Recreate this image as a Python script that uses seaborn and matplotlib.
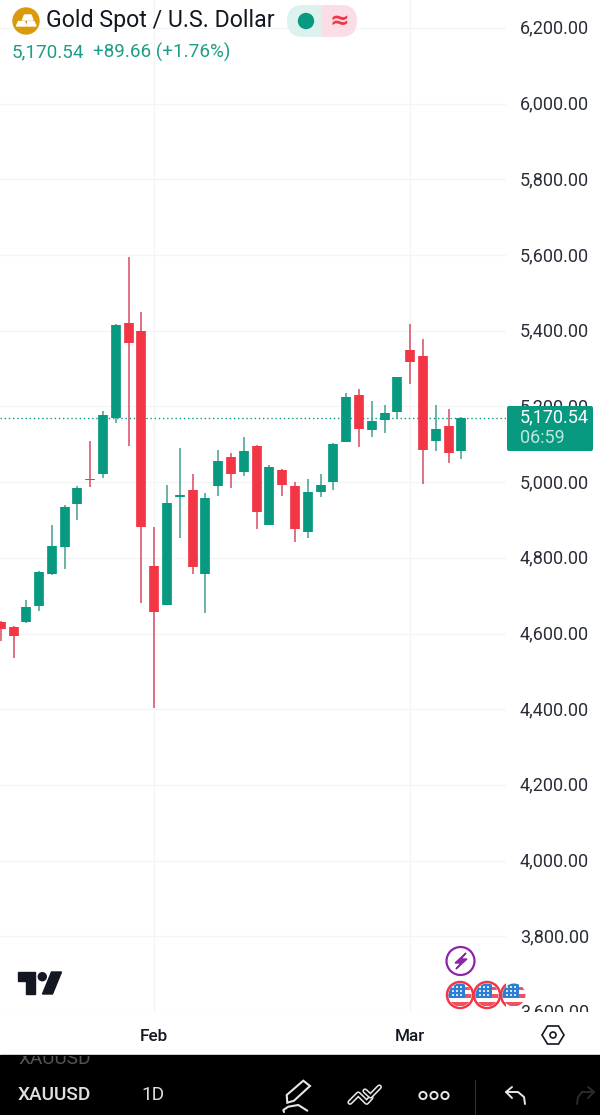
import pandas as pd
import seaborn as sns
from matplotlib import pyplot as plt
from matplotlib.patches import Circle, Polygon, Rectangle, FancyBboxPatch
from matplotlib.transforms import Bbox, ScaledTranslation

# daily candles
opens = [4630, 4616, 4630, 4673, 4758, 4829, 4942, 5008, 5021, 5170, 5421, 5399, 4779,
         4675, 4963, 4979, 4758, 4990, 5066, 5026, 5096, 4888, 5033, 4989, 4868, 4974,
         5000, 5106, 5229, 5139, 5164, 5186, 5350, 5333, 5108, 5148, 5082]
highs = [4632, 4620, 4689, 4765, 4887, 4940, 4989, 5110, 5188, 5418, 5596, 5449, 4882,
         4993, 5091, 5022, 4971, 5085, 5078, 5118, 5098, 5045, 5034, 5000, 5008, 5021,
         5103, 5236, 5247, 5215, 5203, 5279, 5418, 5378, 5204, 5193, 5172]
lows = [4579, 4535, 4628, 4659, 4754, 4771, 4899, 4988, 5012, 5156, 5096, 4681, 4402,
        4675, 4852, 4758, 4654, 4964, 4985, 5017, 4877, 4887, 4964, 4841, 4853, 4960,
        4979, 5106, 5094, 5119, 5129, 5166, 5260, 4995, 5083, 5050, 5062]
closes = [4613, 4593, 4670, 4763, 4830, 4935, 4984, 5006, 5178, 5416, 5367, 4881, 4657,
          4946, 4965, 4777, 4959, 5057, 5022, 5083, 4920, 5041, 4993, 4875, 4975, 4993,
          5102, 5226, 5141, 5162, 5183, 5278, 5318, 5086, 5140, 5078, 5170.54]
price_ticks = [3600, 3800, 4000, 4200, 4400, 4600, 4800, 5000, 5200, 5400, 5600, 5800, 6000, 6200]
month_bars = [12, 32]
month_labels = ["Feb", "Mar"]
last_price = 5170.54

GREEN = "#089981"
RED = "#F23645"
W, H = 600, 1115

sns.set_theme(style="white")
plt.rcParams['font.family'] = ['Roboto', 'DejaVu Sans']

rows_w = []
rows_b = []
for i in range(len(opens)):
    d = "up" if closes[i] >= opens[i] else "down"
    rows_w += [(i, highs[i], d), (i, lows[i], d)]
    top = max(opens[i], closes[i])
    bot = min(opens[i], closes[i])
    if top - bot < 3:
        top += 1
        bot -= 1
    rows_b += [(i, top, d), (i, bot, d)]
wicks = pd.DataFrame(rows_w, columns=["bar", "price", "dir"])
bodies = pd.DataFrame(rows_b, columns=["bar", "price", "dir"])

fig = plt.figure(figsize=(6, 11.15), dpi=100, facecolor="white")
ax = fig.add_axes([0, 1 - 1012 / H, 506 / W, 1012 / H])

sns.lineplot(data=wicks, x="bar", y="price", units="bar", hue="dir", estimator=None, sort=False,
             palette={"up": "#4FA797", "down": "#D9596C"}, lw=1.2, legend=False,
             solid_capstyle="butt", zorder=3, ax=ax)
sns.lineplot(data=bodies, x="bar", y="price", units="bar", hue="dir", estimator=None, sort=False,
             palette={"up": GREEN, "down": RED}, lw=7.0, legend=False,
             solid_capstyle="butt", zorder=4, ax=ax)

ax.set_xlim(-0.055, 39.48)
ax.set_ylim(3600, 6274)
ax.set_xlabel("")
ax.set_ylabel("")
for s in ax.spines.values():
    s.set_visible(False)
ax.yaxis.tick_right()
ax.set_yticks(price_ticks)
ax.set_yticklabels([f"{p:,.2f}" for p in price_ticks])
ax.set_xticks(month_bars)
ax.set_xticklabels(month_labels, fontsize=12.3, fontweight="medium", color="#131722")
ax.tick_params(axis="y", length=0, pad=10, labelsize=13, labelcolor="#2a2e39")
ax.tick_params(axis="x", length=0, pad=12)
ax.grid(True, color="#F4F5F7", lw=1.0)
ax.set_axisbelow(True)
ax.axhline(last_price, color=GREEN, lw=1.0, ls=(0, (1, 2)), zorder=2)

# the time axis hides the lowest price label, labels sit a pixel higher
nudge = ScaledTranslation(0, 1.2 / 100, fig.dpi_scale_trans)
for lab in ax.get_yticklabels():
    lab.set_transform(lab.get_transform() + nudge)
    lab.set_clip_box(Bbox([[0, H - 1012], [W, H]]))
    lab.set_clip_on(True)

# overlay in pixel coordinates for the app chrome
ov = fig.add_axes([0, 0, 1, 1], facecolor="none")
ov.set_xlim(0, W)
ov.set_ylim(H, 0)
ov.axis("off")

# header
ov.add_patch(Circle((26, 21), 13, color="#D99A0C"))
for pts in [[(24.5, 15), (31, 15), (33, 20), (22.5, 20)],
            [(18.5, 21.5), (24.5, 21.5), (26, 26), (16.5, 26)],
            [(28, 21.5), (34, 21.5), (36, 26), (26.5, 26)]]:
    ov.add_patch(Polygon(pts, color="white"))
ov.text(46, 20.5, "Gold Spot / U.S. Dollar", fontsize=16.7, color="#131722", va="center", ha="left")
ov.text(12, 52, "5,170.54", fontsize=13.6, color="#1F9D87", va="center", ha="left")
ov.text(93, 52, "+89.66 (+1.76%)", fontsize=13.6, color="#1F9D87", va="center", ha="left")
pill = FancyBboxPatch((287, 5), 70, 32, boxstyle="round,pad=0,rounding_size=16", fc="none", ec="none")
ov.add_patch(pill)
left = Rectangle((287, 5), 35, 32, fc="#DDF2EE", ec="none")
right = Rectangle((322, 5), 35, 32, fc="#FBDDE5", ec="none")
ov.add_patch(left)
ov.add_patch(right)
left.set_clip_path(pill)
right.set_clip_path(pill)
ov.add_patch(Circle((306, 21), 7.5, color=GREEN))
ov.text(339, 21, "≈", fontsize=17, color=RED, ha="center", va="center", family="DejaVu Sans", fontweight="bold")

# last price tag
ov.add_patch(FancyBboxPatch((507, 406), 86, 45, boxstyle="round,pad=0,rounding_size=2", fc=GREEN, ec="none"))
ov.text(520, 417, "5,170.54", fontsize=13, color="white", va="center", ha="left")
ov.text(520, 438, "06:59", fontsize=13, color="#BDE6DE", va="center", ha="left")

# tradingview logo
ov.add_patch(Polygon([(17.5, 972), (34.5, 972), (34.5, 994), (25.5, 994), (25.5, 981), (17.5, 981)], color="#131722"))
ov.add_patch(Circle((42.3, 976.7), 4, color="#131722"))
ov.add_patch(Polygon([(51.5, 972), (61.5, 972), (52.5, 994), (42.5, 994)], color="#131722"))

# event badges
ov.add_patch(Circle((460.5, 961), 14, fc="white", ec="#8E24AA", lw=1.6))
ov.add_patch(Polygon([(466, 953), (455, 963), (461, 963), (456, 969), (467, 959), (461, 959)], color="#8E24AA"))
clip_pane = Rectangle((0, 0), 506, 1012, transform=ov.transData)
for cx, zo in [(514, 5), (487, 6), (460, 7)]:
    ring = Circle((cx, 995), 13, fc="white", ec=RED, lw=1.8, zorder=zo)
    disc = Circle((cx, 995), 11.5, fc="white", ec="none", zorder=zo)
    ov.add_patch(ring)
    ov.add_patch(disc)
    ring.set_clip_path(clip_pane)
    disc.set_clip_path(clip_pane)
    for y0, hh in [(987, 3), (993.5, 4.5), (1001.5, 4)]:
        st = Rectangle((cx - 12, y0), 24, hh, fc="#F0525F", ec="none", zorder=zo)
        ov.add_patch(st)
        st.set_clip_path(disc)
    canton = Rectangle((cx - 12, 983), 17, 15, fc="#2C7FD6", ec="none", zorder=zo)
    ov.add_patch(canton)
    canton.set_clip_path(disc)
    for dx in [-8, -4, 0]:
        for dy in [986, 990, 994]:
            dot = Rectangle((cx + dx, dy), 2, 2, fc="#D5E6F7", ec="none", zorder=zo)
            ov.add_patch(dot)
            dot.set_clip_path(disc)

# time axis settings icon
ov.add_patch(Polygon([(542, 1035), (547.5, 1026), (558.5, 1026), (564, 1035), (558.5, 1044), (547.5, 1044)],
                     fc="white", ec="#131722", lw=1.2))
ov.add_patch(Circle((553, 1035), 3, fc="white", ec="#131722", lw=1.2))

# bottom toolbar
ov.add_patch(Rectangle((0, 1055), W, 60, color="black"))
ghost = ov.text(18, 1059, "XAUUSD", fontsize=13.7, color="#555555", va="center", ha="left")
ghost.set_clip_path(Rectangle((0, 1056), W, 59, transform=ov.transData))
ghost.set_clip_on(True)
ov.text(18, 1095, "XAUUSD", fontsize=13.7, color="#E0E0E0", va="center", ha="left", fontweight="medium")
ov.text(141, 1095, "1D", fontsize=13.7, color="#E0E0E0", va="center", ha="left")
ICON = "#E6E6E6"
ov.add_patch(Polygon([(286.7, 1095), (303.3, 1080.7), (310, 1086), (294, 1100.7), (287.3, 1102.7)],
                     fc="none", ec=ICON, lw=1.5))
ov.plot([284, 283.3, 288.3, 298.3, 307.3], [1112, 1110, 1106.7, 1105, 1110.7], color=ICON, lw=1.5)
ov.plot([350, 358.3, 366.7, 371], [1102.3, 1094, 1102.3, 1097.5], color=ICON, lw=3.8, solid_capstyle="round")
ov.plot([350, 358.3, 366.7, 371], [1102.3, 1094, 1102.3, 1097.5], color="black", lw=1.5, solid_capstyle="round")
ov.plot([365, 370.5, 379.3], [1091, 1096, 1087], color=ICON, lw=3.8, solid_capstyle="round")
ov.plot([365, 370.5, 379.3], [1091, 1096, 1087], color="black", lw=1.5, solid_capstyle="round")
for cx in [423, 434, 445]:
    ov.add_patch(Circle((cx, 1095.5), 3.6, fc="none", ec=ICON, lw=1.4))
ov.plot([475, 475], [1080, 1115], color="#333333", lw=0.8)
ov.plot([512, 506, 512], [1087, 1092, 1098], color=ICON, lw=1.4)
ov.plot([506, 518, 524, 525], [1092, 1092, 1097, 1104], color=ICON, lw=1.4)
ov.plot([588, 594, 588], [1087, 1092, 1098], color="#2b2b2b", lw=1.4)
ov.plot([594, 582, 578, 577], [1092, 1092, 1097, 1104], color="#2b2b2b", lw=1.4)

fig.savefig("out.png", dpi=100)
